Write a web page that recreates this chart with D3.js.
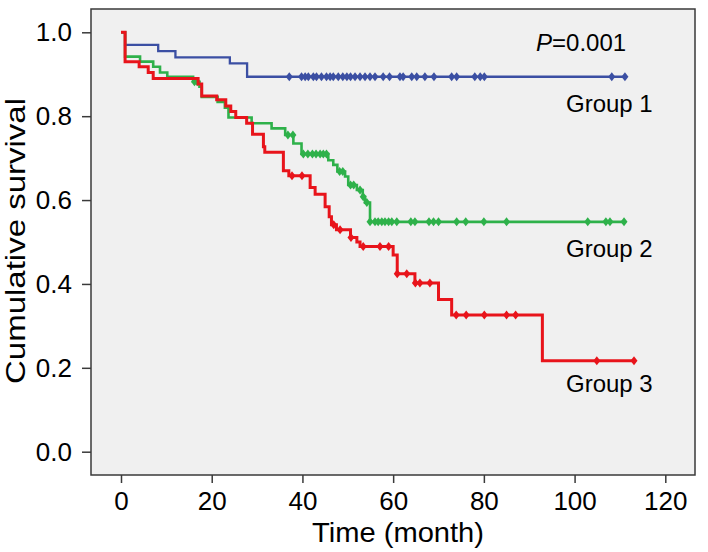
<!DOCTYPE html>
<html>
<head>
<meta charset="utf-8">
<script src="https://cdn.jsdelivr.net/npm/d3@7/dist/d3.min.js"></script>
<style>
  html, body { margin: 0; padding: 0; background: #ffffff; }
  svg { display: block; }
  text { font-family: "Liberation Sans", Arial, sans-serif; fill: #000; }
</style>
</head>
<body>
<svg id="chart" width="708" height="552"></svg>
<script>
// ---------- data ----------
const xTicks = [0, 20, 40, 60, 80, 100, 120];
const yTicks = [0.0, 0.2, 0.4, 0.6, 0.8, 1.0];
const groupNames = ["Group 1", "Group 2", "Group 3"];
const groupColors = ["#3b4fa3", "#2eb14a", "#e8141b"];

// step curves: event times and survival after each event
const g1Times = [0, 0.9, 8.2, 12.0, 24.0, 27.8];
const g1Surv  = [1, 0.970, 0.955, 0.940, 0.926, 0.894];
const g1End = 111.1;
const g1Cens = [37.1, 39.8, 40.6, 41.3, 42.4, 43.1, 44.2, 45.3, 46.1, 46.8, 47.9, 48.9, 49.8, 50.6,
                51.6, 52.7, 53.8, 54.9, 56.0, 57.8, 59.2, 61.5, 62.2, 64.1, 65.2, 67.0, 69.0, 72.9,
                74.0, 78.0, 79.2, 80.1, 108.2, 111.1];

const g2Times = [0, 0.9, 4.2, 7.1, 8.6, 10.2, 15.9, 17.3, 17.8, 21.3, 22.9, 23.7, 28.8, 33.2, 36.2,
                 38.0, 39.8, 45.7, 46.8, 47.7, 49.4, 50.1, 52.0, 53.3, 53.8, 54.9];
const g2Surv  = [1, 0.942, 0.930, 0.918, 0.904, 0.894, 0.882, 0.870, 0.846, 0.834, 0.820, 0.797, 0.783,
                 0.771, 0.755, 0.735, 0.710, 0.695, 0.684, 0.668, 0.656, 0.636, 0.624, 0.608, 0.594, 0.548];
const g2End = 110.9;
const g2Cens = [16.2, 16.8, 36.8, 37.9, 40.2, 41.2, 42.2, 43.0, 43.9, 44.6, 45.3, 48.2, 48.9, 50.6, 51.3,
                52.7, 53.4, 54.2, 54.9, 56.0, 56.7, 57.5, 58.2, 59.0, 59.7, 60.8, 63.9, 64.8, 67.9,
                68.9, 70.0, 74.0, 76.0, 80.0, 85.0, 102.9, 106.9, 107.8, 110.9];

const g3Times = [0, 0.9, 4.0, 6.0, 7.1, 17.0, 17.8, 21.1, 23.1, 24.2, 25.3, 27.7, 29.0, 31.4, 31.7,
                 35.8, 37.0, 41.7, 42.8, 45.0, 45.9, 46.4, 47.5, 50.6, 52.0, 52.7, 60.0, 60.9, 64.8,
                 70.0, 72.9, 92.9];
const g3Surv  = [1, 0.930, 0.918, 0.904, 0.890, 0.877, 0.848, 0.839, 0.824, 0.811, 0.797, 0.783, 0.757,
                 0.727, 0.714, 0.670, 0.658, 0.630, 0.614, 0.584, 0.560, 0.541, 0.529, 0.511, 0.500,
                 0.489, 0.469, 0.424, 0.402, 0.363, 0.326, 0.217];
const g3End = 113.1;
const g3Cens = [37.7, 39.9, 46.9, 48.3, 50.7, 53.4, 57.1, 59.0, 60.9, 63.0, 64.9, 65.9, 68.1,
                73.9, 76.1, 80.1, 85.0, 87.0, 104.9, 113.1];

const pText = "0.001";

// ---------- layout ----------
const svg = d3.select("#chart");
const frame = {left: 91, top: 9, right: 695, bottom: 475};
const x = d3.scaleLinear().domain([0, 120]).range([121, 665.3]);
const y = d3.scaleLinear().domain([0, 1]).range([451.7, 32.3]);

svg.append("rect")
  .attr("x", frame.left).attr("y", frame.top)
  .attr("width", frame.right - frame.left).attr("height", frame.bottom - frame.top)
  .attr("fill", "#f0f0f0").attr("stroke", "#3a3a3a").attr("stroke-width", 1.5);

// axes
const yAxis = svg.append("g")
  .attr("transform", `translate(${frame.left},0)`)
  .call(d3.axisLeft(y).tickValues(yTicks).tickFormat(d3.format(".1f")).tickSize(9).tickPadding(10));
const xAxis = svg.append("g")
  .attr("transform", `translate(0,${frame.bottom})`)
  .call(d3.axisBottom(x).tickValues(xTicks).tickFormat(d3.format("d")).tickSize(8).tickPadding(9));
[yAxis, xAxis].forEach(a => {
  a.select(".domain").remove();
  a.selectAll(".tick line").attr("stroke", "#3a3a3a").attr("stroke-width", 1.5);
  a.selectAll(".tick text").attr("font-size", 26).attr("fill", "#000")
    .attr("font-family", "'Liberation Sans', Arial, sans-serif");
});

// axis titles
svg.append("text")
  .attr("transform", `translate(25,241) rotate(-90)`)
  .attr("text-anchor", "middle").attr("font-size", 27)
  .attr("textLength", 286).attr("lengthAdjust", "spacingAndGlyphs")
  .text("Cumulative survival");
svg.append("text")
  .attr("x", 398).attr("y", 542)
  .attr("text-anchor", "middle").attr("font-size", 28)
  .attr("textLength", 172).attr("lengthAdjust", "spacingAndGlyphs")
  .text("Time (month)");

// curves
const groups = [
  {times: g1Times, surv: g1Surv, end: g1End, cens: g1Cens, width: 2.3},
  {times: g2Times, surv: g2Surv, end: g2End, cens: g2Cens, width: 2.6},
  {times: g3Times, surv: g3Surv, end: g3End, cens: g3Cens, width: 3}
];
const line = d3.line().x(d => x(d[0])).y(d => y(d[1])).curve(d3.curveStepAfter);

function survAt(g, t) {
  let v = g.surv[0];
  for (let i = 0; i < g.times.length; i++) if (g.times[i] <= t) v = g.surv[i];
  return v;
}

groups.forEach((g, gi) => {
  const pts = g.times.map((t, i) => [t, g.surv[i]]);
  pts.push([g.end, g.surv[g.surv.length - 1]]);
  const col = groupColors[gi];
  svg.append("path").attr("d", line(pts))
    .attr("fill", "none").attr("stroke", col).attr("stroke-width", g.width)
    .attr("stroke-linejoin", "miter");
  svg.append("g").selectAll("path").data(g.cens).join("path")
    .attr("transform", t => `translate(${x(t)},${y(survAt(g, t))})`)
    .attr("d", "M0,-4.5L3.5,0L0,4.5L-3.5,0Z")
    .attr("fill", col);
});

// annotations
const pLabel = svg.append("text").attr("x", 536).attr("y", 51).attr("font-size", 24);
pLabel.append("tspan").attr("font-style", "italic").text("P");
pLabel.append("tspan").text("=" + pText);

const labelY = [112, 257, 392];
groupNames.forEach((n, i) => {
  svg.append("text").attr("x", 566).attr("y", labelY[i]).attr("font-size", 24).text(n);
});
</script>
</body>
</html>
